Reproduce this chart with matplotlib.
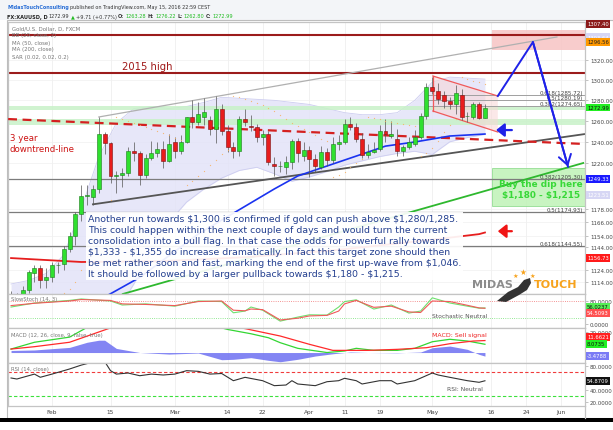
import matplotlib
matplotlib.use('Agg')
import matplotlib.pyplot as plt
from matplotlib.patches import Rectangle, Polygon
from matplotlib.ticker import FixedLocator, FixedFormatter, NullLocator, NullFormatter
import numpy as np
import pandas as pd

plt.rcParams['text.parse_math'] = False  # the notes are full of dollar signs

W, H = 613, 431

# ---- values -------------------------------------------------------------
# daily bars from Jan 21 2016, the last 17 slots are the empty future part
dates = pd.bdate_range('2016-01-21', periods=99)

opens = [1101, 1098, 1097, 1107, 1121, 1126, 1115, 1118, 1128, 1129,
         1142, 1154, 1173, 1190, 1189, 1196, 1247, 1239, 1208, 1209,
         1211, 1231, 1229, 1209, 1225, 1229, 1233, 1222, 1239.6, 1231.7,
         1240, 1263.5, 1258.6, 1263.5, 1260.8, 1252.2, 1271.5, 1250.6, 1234.9, 1231.7,
         1261.8, 1255.4, 1253.8, 1244.3, 1247.4, 1219.3, 1217, 1216.3, 1220.9, 1241.1,
         1227, 1232, 1224, 1216.3, 1230.2, 1222.4, 1237.9, 1239.6, 1257, 1253.8,
         1242.7, 1227.1, 1230.2, 1233.3, 1250.6, 1245.8, 1242.7, 1231.7, 1234.9, 1237.9,
         1244.3, 1265, 1292.8, 1289.5, 1285, 1279, 1276, 1285, 1264.5, 1264,
         1276, 1263.28]
highs = [1106, 1104, 1110, 1124, 1128, 1128, 1126, 1131, 1131, 1145,
         1157, 1175, 1200, 1200, 1200, 1263.8, 1249, 1240, 1213, 1215,
         1235, 1240, 1231, 1228, 1241, 1240, 1241, 1247, 1245, 1246,
         1264, 1280, 1278, 1282, 1265, 1284.6, 1276, 1256, 1240, 1265,
         1272, 1266, 1257, 1251, 1250, 1226, 1222, 1227, 1243, 1244,
         1240, 1236, 1228, 1236, 1234, 1245, 1246, 1262, 1264, 1258,
         1248, 1238, 1240, 1256, 1262, 1260, 1252, 1237, 1245, 1251,
         1268, 1297, 1303.6, 1297, 1289, 1283, 1295, 1291, 1269, 1278,
         1278, 1276.22]
lows = [1093, 1093, 1095, 1104, 1114, 1109, 1109, 1114, 1121, 1124,
        1140, 1146, 1167, 1181, 1181, 1192, 1228, 1201, 1192, 1198,
        1208, 1222, 1200, 1206, 1223, 1226, 1215, 1221, 1225, 1228,
        1239, 1253, 1256, 1256, 1246, 1239, 1246, 1230, 1225, 1227,
        1255, 1250, 1240, 1237, 1218, 1208, 1212, 1210, 1214, 1221,
        1222, 1207, 1212, 1214, 1217, 1220, 1232, 1238, 1251, 1240,
        1225, 1225, 1229, 1231, 1240, 1244, 1227, 1227, 1233, 1236,
        1243, 1262, 1286, 1276, 1273, 1272, 1267, 1261, 1259, 1262,
        1262, 1262.80]
closes = [1098, 1097, 1107, 1122, 1126, 1115, 1118, 1128, 1128.5, 1142,
          1154, 1173, 1190, 1190.5, 1196, 1247, 1239, 1208, 1209, 1211,
          1231, 1229, 1209, 1225, 1229, 1233, 1222, 1238, 1231.7, 1240,
          1263.5, 1258.6, 1266.7, 1268.3, 1252.2, 1271.5, 1250.6, 1234.9, 1231.7, 1261.8,
          1258.6, 1253.8, 1244.3, 1247.4, 1220.9, 1216.8, 1217.5, 1220.9, 1241.1, 1229,
          1232, 1224, 1217, 1230.2, 1222.4, 1237.9, 1239.6, 1257, 1253.8, 1242.7,
          1227.1, 1230.2, 1232, 1250.6, 1247.4, 1247.4, 1231.7, 1234.9, 1239.6, 1244.3,
          1265, 1292.8, 1289.5, 1281, 1279.6, 1276, 1287, 1264, 1265, 1276,
          1263, 1272.99]
sar = [1075, 1078, 1081, 1084, 1088, 1092, 1095, 1098, 1101, 1104,
       1108, 1114, 1124, 1136, 1146, 1155, 1172, 1186, 1263.8, 1262,
       1260, 1258, 1256, 1254, 1252, 1250, 1248, 1246, 1244, 1242,
       1200, 1203, 1208, 1213, 1218, 1223, 1228, 1232, 1284.6, 1283,
       1281, 1279, 1277, 1275, 1273, 1270, 1266, 1262, 1258, 1255,
       1252, 1249, 1246, 1243, 1241, 1207, 1209, 1212, 1216, 1220,
       1224, 1264, 1263, 1262, 1260, 1259, 1258, 1257, 1256, 1255,
       1227, 1229, 1234, 1241, 1249, 1256, 1262, 1303.6, 1301.5, 1299.5,
       1298, 1296.56]

bb_bar = [0, 3, 6, 9, 12, 15, 18, 21, 24, 27, 30, 33, 36, 39,
          42, 45, 48, 51, 54, 57, 60, 63, 66, 69, 72, 75, 78, 81]
bb_upper = [1112, 1115, 1121, 1137, 1178, 1226, 1258, 1272, 1274, 1272, 1274, 1278, 1283, 1282,
            1281, 1280, 1278, 1276, 1272, 1268, 1266, 1266, 1268, 1280, 1298, 1303, 1302, 1301]
bb_lower = [1064, 1070, 1076, 1079, 1080, 1076, 1088, 1112, 1140, 1166, 1184, 1196, 1206, 1213,
            1216, 1210, 1203, 1207, 1212, 1218, 1222, 1226, 1229, 1231, 1228, 1240, 1244, 1247]

ma50_bar = [14, 17, 22, 32, 45, 49, 54, 59, 64, 69, 75, 81]
ma50 = [1096, 1103.7, 1117.6, 1155.4, 1196, 1207.9, 1217.2, 1226.5, 1235.9, 1239.8, 1245.5, 1247.4]
ma200_bar = [0, 12, 25, 40, 55, 66, 73, 80, 81]
ma200 = [1134.3, 1130.9, 1131.5, 1135, 1141, 1147, 1151, 1155.3, 1156.73]

stoch_bar = [0, 4, 10, 12, 17, 19, 23, 28, 32, 36, 38, 40, 41, 43, 46,
             49, 51, 54, 56, 57, 59, 62, 65, 68, 70, 72, 75, 78, 80, 81]
stoch_k = [59, 73, 82, 87, 80, 66, 70, 62, 80, 78, 39, 45, 59, 48, 10,
           24, 32, 31, 59, 78, 84, 52, 66, 38, 45, 91, 73, 62, 55, 56.02]
stoch_d = [64, 72, 80, 85, 82, 70, 68, 64, 78, 80, 48, 46, 52, 50, 14,
           20, 28, 30, 45, 70, 82, 58, 62, 42, 40, 80, 78, 65, 56, 54.51]

macd_bar = [0, 4, 10, 13, 16, 20, 25, 30, 34, 37, 41, 44, 46, 49, 54, 57, 59, 62, 66, 69, 72, 75, 78, 81]
macd_line = [3.4, 10, 15, 24.5, 32, 36, 33, 30, 27, 22.5, 18.3, 14.4, 9.6, 4.1, 0, 1.5,
             4.1, 2.1, 2.1, 4.1, 10.5, 12.9, 11.2, 8.07]
signal_bar = [0, 4, 10, 14, 17, 21, 26, 31, 36, 40, 46, 51, 55, 61, 66, 71, 75, 79, 81]
signal_line = [3.4, 5.7, 10, 18, 24, 30, 32, 30, 27, 23.3, 16.1, 8, 2.1, 2.1, 3.1, 4.7, 8.6, 11.2, 11.66]
hist_bar = [0, 4, 10, 13, 15, 16, 18, 22, 27, 32, 36, 38, 41, 44, 46, 49, 52, 55,
            58, 61, 66, 70, 72, 75, 78, 80, 81]
hist = [2, 2.5, 5, 10, 12, 12, 4, 0, -1.5, -0.5, -7, -6.6, -5, -7.6, -9, -6.6, -3.4, -1.2,
        0.5, 0, -0.3, 0.5, 4.7, 6.3, 3.1, -1.8, -3.48]

rsi_bar = [0, 1, 4, 5, 7, 10, 12, 14, 16, 17, 18, 20, 22, 24, 26, 28, 30, 32, 34, 36, 38, 40,
           43, 45, 47, 48, 49, 52, 54, 56, 57, 59, 60, 63, 65, 66, 69, 72, 73, 75, 78, 80, 81]
rsi = [59.5, 57.8, 66, 60.7, 66, 74.5, 81, 86, 87, 71.7, 66, 67.8, 63.3, 66, 64.5, 66, 71.7,
       70.6, 66, 67, 55, 60.6, 55, 46.7, 47.8, 55, 49.5, 46.7, 53.3, 55, 59, 55, 49.5, 55, 55,
       49.5, 55, 67.8, 64.5, 60.6, 55, 52.3, 54.87]

# drawn levels and zones (price)
high_2015 = 1307.40
top_line = 1345.7
target_zone = (1330.3, 1350.9)
buy_zone = (1180.2, 1215.6)
green_bands = [(1271.0, 1274.6), (1256.0, 1262.0)]
fib_upper = [1285.72, 1280.19, 1274.65]
fib_upper_names = ['0.618', '0.5', '0.382']
fib_lower = [1205.30, 1174.93, 1144.55]
fib_lower_names = ['0.382', '0.5', '0.618']

# trendlines as (bar, price)
channel_top = [(15, 1263.8), (93.3, 1343.7)]
channel_bottom = [(14.0, 1182.0), (98.1, 1247.4)]
downtrend = [(-0.5, 1261.8), (98.1, 1237.9)]
support_green = [(19.1, 1103.5), (97.8, 1220.0)]
flag_upper = [(72.1, 1304.1), (83.2, 1284.3)]
flag_lower = [(72.1, 1269.6), (83.2, 1249.3)]
projection_bar = [83.2, 89.2, 95.2]
projection_price = [1284.3, 1338.5, 1216.6]

price_ticks = [1320, 1300, 1280, 1260, 1240, 1220, 1178, 1166, 1154, 1144, 1124, 1114]
tick_dates = ['2016-02-01', '2016-02-15', '2016-03-01', '2016-03-14', '2016-03-22', '2016-04-01',
              '2016-04-11', '2016-04-19', '2016-05-02', '2016-05-16', '2016-05-24', '2016-06-01']
tick_labels = ['Feb', '15', 'Mar', '14', '22', 'Apr', '11', '19', 'May', '16', '24', 'Jun']

text_body = ("Another run towards $1,300 is confirmed if gold can push above $1,280/1,285.\n"
             "This could happen within the next couple of days and would turn the current\n"
             "consolidation into a bull flag. In that case the odds for powerful rally towards\n"
             "$1,333 - $1,355 do increase dramatically. In fact this target zone should then\n"
             "be met rather soon and fast, marking the end of the first up-wave from $1,046.\n"
             "It should be followed by a larger pullback towards $1,180 - $1,215.")

# ---- figure --------------------------------------------------------------
fig = plt.figure(figsize=(W / 100, H / 100), dpi=100)
fig.patch.set_facecolor('white')


def px_axes(x0, y0, x1, y1):
    return fig.add_axes([x0 / W, 1 - y1 / H, (x1 - x0) / W, (y1 - y0) / H])


ax = px_axes(8, 23, 585, 295)
ax_st = px_axes(8, 295, 585, 329)
ax_md = px_axes(8, 329, 585, 364)
ax_rsi = px_axes(8, 364, 585, 407)

idx = {d: i for i, d in enumerate(dates)}
tick_pos = [idx[pd.Timestamp(d)] for d in tick_dates]

ax.set_yscale('log')
for a in (ax, ax_st, ax_md, ax_rsi):
    a.set_xlim(-0.52, 98.1)
    a.set_facecolor('white')
    for s in a.spines.values():
        s.set_color('#c4c4c4')
        s.set_linewidth(0.9)
    a.yaxis.tick_right()
    a.tick_params(axis='y', labelsize=4, color='#aaaaaa', labelcolor='#444444',
                  length=2, width=0.5, pad=1.5)
    a.set_xticks(tick_pos)
    a.tick_params(axis='x', length=0, labelbottom=False)
    a.grid(axis='x', color='#ececec', lw=0.5)
    a.set_axisbelow(True)
ax_rsi.set_xticklabels(tick_labels)
ax_rsi.tick_params(axis='x', labelbottom=True, labelsize=4.2, labelcolor='#444444', pad=2.5)

# ---- price pane ----------------------------------------------------------
ax.set_ylim(1103.5, 1359.2)
ax.yaxis.set_major_locator(FixedLocator(price_ticks))
ax.yaxis.set_major_formatter(FixedFormatter([f'{v:.2f}' for v in price_ticks]))
ax.yaxis.set_minor_locator(NullLocator())
ax.yaxis.set_minor_formatter(NullFormatter())
ax.grid(axis='y', color='#f0f0f0', lw=0.5)

ax.fill_between(bb_bar, bb_lower, bb_upper, color='#e2e2f8', alpha=0.8, lw=0, zorder=1)
ax.plot(bb_bar, bb_upper, color='#cdcdf0', lw=0.6, zorder=1.1)
ax.plot(bb_bar, bb_lower, color='#cdcdf0', lw=0.6, zorder=1.1)

for lo, hi in green_bands:
    ax.axhspan(lo, hi, color='#c8f2c8', alpha=0.85, lw=0, zorder=1.5)

ax.add_patch(Rectangle((82.2, target_zone[0]), 20, target_zone[1] - target_zone[0],
                       fc='#f7c4c4', ec='none', alpha=0.85, zorder=1.6))
ax.add_patch(Rectangle((82.2, buy_zone[0]), 20, buy_zone[1] - buy_zone[0],
                       fc='#bff3b6', ec='#86d886', lw=0.6, alpha=0.85, zorder=1.6))

ax.axhline(high_2015, color='#9b1b1b', lw=1.5, zorder=2)
ax.axhline(top_line, color='#9b1b1b', lw=1.5, zorder=2)
ax.hlines(fib_lower, -0.52, 98.1, color='#7c7c7c', lw=0.9, zorder=2)
ax.hlines(fib_upper, 71, 98.1, color='#a0a0a0', lw=0.7, zorder=2)
for v, n in zip(fib_lower, fib_lower_names):
    ax.text(97.8, v, f'{n}({v:.2f})', fontsize=4.1, color='#444444', ha='right', va='bottom', zorder=3)
for v, n in zip(fib_upper, fib_upper_names):
    ax.text(97.8, v, f'{n}({v:.2f})', fontsize=4.1, color='#444444', ha='right', va='bottom', zorder=3)

# flag
flag = Polygon([flag_upper[0], flag_upper[1], flag_lower[1], flag_lower[0]], closed=True,
               fc='#f9d6d6', ec='none', alpha=0.55, zorder=1.8)
ax.add_patch(flag)
for ln in (flag_upper, flag_lower):
    ax.plot([p[0] for p in ln], [p[1] for p in ln], color='#f05a5a', lw=0.9, zorder=2.5)
ax.plot([flag_upper[0][0], flag_lower[0][0]], [flag_upper[0][1], flag_lower[0][1]],
        color='#f05a5a', lw=0.9, zorder=2.5)


def trend(ln, **kw):
    ax.plot([p[0] for p in ln], [p[1] for p in ln], **kw)


trend(channel_top, color='#b0b0b0', lw=0.9, zorder=2.4)
trend(channel_bottom, color='#555555', lw=1.3, zorder=2.4)
trend(support_green, color='#2eb82e', lw=1.3, zorder=2.4)
trend(downtrend, color='#d42020', lw=1.6, dashes=(4, 2.5), zorder=2.6)

ax.plot(ma200_bar, ma200, color='#e61e1e', lw=1.3, zorder=3)
ax.plot(ma50_bar, ma50, color='#1a33f0', lw=1.2, zorder=3)

# candles
o, hh, ll, c = map(np.array, (opens, highs, lows, closes))
xb = np.arange(len(c))
up = c >= o
ax.vlines(xb, ll, hh, color='#555555', lw=0.5, zorder=4)
body = np.maximum(np.abs(c - o), 0.5)
ax.bar(xb[up], body[up], bottom=o[up], width=0.68, color='#2fe02f', edgecolor='#1b7a1b',
       lw=0.4, zorder=4.5)
ax.bar(xb[~up], body[~up], bottom=c[~up], width=0.68, color='#e81c1c', edgecolor='#7a1010',
       lw=0.4, zorder=4.5)
ax.plot(xb, sar, ls='none', marker='o', ms=0.9, color='#f7b060', mec='none', alpha=0.85, zorder=5)

# arrows and projection
ax.plot(projection_bar, projection_price, color='#1f22e8', lw=1.4, zorder=6)
ax.annotate('', xy=(projection_bar[2], projection_price[2]),
            xytext=(projection_bar[1], projection_price[1]),
            arrowprops=dict(arrowstyle='->,head_length=0.7,head_width=0.45', color='#1f22e8',
                            lw=1.4, shrinkA=0, shrinkB=0), zorder=6)
ax.annotate('', xy=(82.9, 1251.2), xytext=(85.6, 1251.2),
            arrowprops=dict(arrowstyle='-|>,head_length=0.5,head_width=0.4', color='#1f22e8',
                            lw=1.6, shrinkA=0, shrinkB=0), zorder=6)
ax.annotate('', xy=(83.2, 1157.9), xytext=(85.6, 1157.9),
            arrowprops=dict(arrowstyle='-|>,head_length=0.5,head_width=0.4', color='#f01414',
                            lw=1.6, shrinkA=0, shrinkB=0), zorder=6)

# ---- stochastic ----------------------------------------------------------
ax_st.set_ylim(-13.9, 104.3)
ax_st.set_yticks([80, 0])
ax_st.set_yticklabels(['80.0000', '0.0000'])
ax_st.axhline(80, color='#f07070', lw=0.6, ls=':')
ax_st.axhline(20, color='#70e070', lw=0.6, ls=':')
ax_st.plot(stoch_bar, stoch_k, color='#6fe06f', lw=0.8)
ax_st.plot(stoch_bar, stoch_d, color='#f05a5a', lw=0.8)

# ---- MACD ----------------------------------------------------------------
ax_md.set_ylim(-10.2, 23.9)
ax_md.set_yticks([20])
ax_md.set_yticklabels(['20.0000'])
ax_md.fill_between(hist_bar, 0, hist, color='#6d70f2', alpha=0.85, lw=0)
ax_md.plot(macd_bar, macd_line, color='#33d633', lw=0.9)
ax_md.plot(signal_bar, signal_line, color='#ff2a2a', lw=0.9)

# ---- RSI -----------------------------------------------------------------
ax_rsi.set_ylim(12.8, 84.5)
ax_rsi.set_yticks([80, 40, 20])
ax_rsi.set_yticklabels(['80.0000', '40.0000', '20.0000'])
ax_rsi.axhline(70, color='#f03c3c', lw=0.8, dashes=(3, 2))
ax_rsi.axhline(30, color='#3ce03c', lw=0.8, dashes=(3, 2))
ax_rsi.plot(rsi_bar, rsi, color='#333333', lw=0.8)

# ---- overlay in pixel coordinates: header, frame, labels, logo -----------
ov = fig.add_axes([0, 0, 1, 1], zorder=20)
ov.set_xlim(0, W)
ov.set_ylim(H, 0)
ov.axis('off')

ov.add_patch(Rectangle((0, 0), W, 21, fc='#f3f5f8', ec='none'))
ov.add_patch(Rectangle((6.5, 21), 606, 398, fill=False, ec='#bdbdbd', lw=0.8))
ov.add_patch(Rectangle((0, 419), W, 4, fc='black', ec='none'))
ov.plot([585, 585], [407, 419], color='#c4c4c4', lw=0.9)

renderer = fig.canvas.get_renderer()


def chain_text(x, y, pieces, size=3.5):
    for s, color, weight in pieces:
        t = ov.text(x, y, s, fontsize=size, color=color, fontweight=weight, va='center', ha='left')
        x += t.get_window_extent(renderer=renderer).width + 1.3


chain_text(7, 8, [('MidasTouchConsulting', '#2a6fd6', 'bold'),
                  ('published on TradingView.com, May 15, 2016 22:59 CEST', '#333333', 'normal')])
chain_text(7, 17, [('FX:XAUUSD, D', '#222222', 'bold'), ('1272.99', '#333333', 'normal'),
                   ('\u25b2', '#22bb22', 'normal'), ('+9.71 (+0.77%)', '#333333', 'normal'),
                   ('O:', '#333333', 'bold'), ('1263.28', '#22bb22', 'normal'),
                   ('H:', '#333333', 'bold'), ('1276.22', '#22bb22', 'normal'),
                   ('L:', '#333333', 'bold'), ('1262.80', '#22bb22', 'normal'),
                   ('C:', '#333333', 'bold'), ('1272.99', '#22bb22', 'normal')], size=3.6)

for yy, s in zip([29, 36, 43, 50, 57], ['Gold/U.S. Dollar, D, FXCM', 'BB (20, close, 2)',
                                        'MA (50, close)', 'MA (200, close)', 'SAR (0.02, 0.02, 0.2)']):
    ov.text(12, yy, s, fontsize=3.9, color='#777777', va='center')

ov.text(147, 67, '2015 high', fontsize=7.2, color='#a01818', ha='center', va='center')
ov.text(10, 144, '3 year\ndowntrend-line', fontsize=6.2, color='#cc1111', ha='left', va='center',
        linespacing=1.35)
ov.text(88, 215, text_body, fontsize=6.75, color='#233f8f', ha='left', va='top', linespacing=1.3,
        bbox=dict(boxstyle='square,pad=0.2', fc='white', ec='none', alpha=0.92))
ov.text(541, 190, 'Buy the dip here\n$1,180 - $1,215', fontsize=6.4, fontweight='bold',
        color='#38d838', ha='center', va='center', linespacing=1.25)

ov.text(11, 300, 'SlowStoch (14, 3)', fontsize=3.8, color='#777777', va='center')
ov.text(11, 336, 'MACD (12, 26, close, 9, false, true)', fontsize=3.8, color='#777777', va='center')
ov.text(11, 370, 'RSI (14, close)', fontsize=3.8, color='#777777', va='center')
ov.text(487, 317, 'Stochastic Neutral', fontsize=4.3, color='#555555', ha='right', va='center')
ov.text(487, 336, 'MACD: Sell signal', fontsize=4.5, color='#ee2222', ha='right', va='center')
ov.text(465, 390, 'RSI: Neutral', fontsize=4.3, color='#555555', ha='center', va='center')

# logo
ov.text(472, 285, 'MIDAS', fontsize=8, fontweight='bold', color='#8c8c8c', va='center')
ov.text(534, 285, 'TOUCH', fontsize=8, fontweight='bold', color='#f7a21b', va='center')
for sx, sy, sz in [(515, 276, 4.5), (523, 272, 5.5), (532, 276, 4.5)]:
    ov.text(sx, sy, '\u2605', fontsize=sz, color='#f7a21b', ha='center', va='center')
ov.add_patch(Polygon([(497, 302), (508, 293), (518, 288), (524, 281), (530, 279), (531, 284),
                      (527, 291), (519, 296), (506, 303)], closed=True, fc='#333333', ec='none'))

# price tags on the right axis
tags = [(25, '1307.40', '#8b1a1a', 'white'), (38, '1303.64', '#d6d6f4', 'white'),
        (43, '1296.56', '#ff9800', '#222222'), (108.5, '1272.99', '#22ee22', '#111111'),
        (180, '1249.33', '#1a1aff', 'white'), (196, '1223.51', '#d6d6f4', 'white'),
        (259, '1156.73', '#ff1a1a', 'white'), (308, '56.0237', '#55ee55', '#111111'),
        (314, '54.5093', '#ff5050', 'white'), (338, '11.6621', '#ff2020', 'white'),
        (345, '8.0735', '#22ee22', '#111111'), (357, '-3.4788', '#7b7bf5', 'white'),
        (382, '54.8709', '#111111', 'white')]
for yy, s, fc, tc in tags:
    ov.text(587, yy, s, fontsize=3.8, color=tc, va='center', ha='left',
            bbox=dict(boxstyle='square,pad=0.25', fc=fc, ec='none'))

fig.savefig('out.png', dpi=100)
